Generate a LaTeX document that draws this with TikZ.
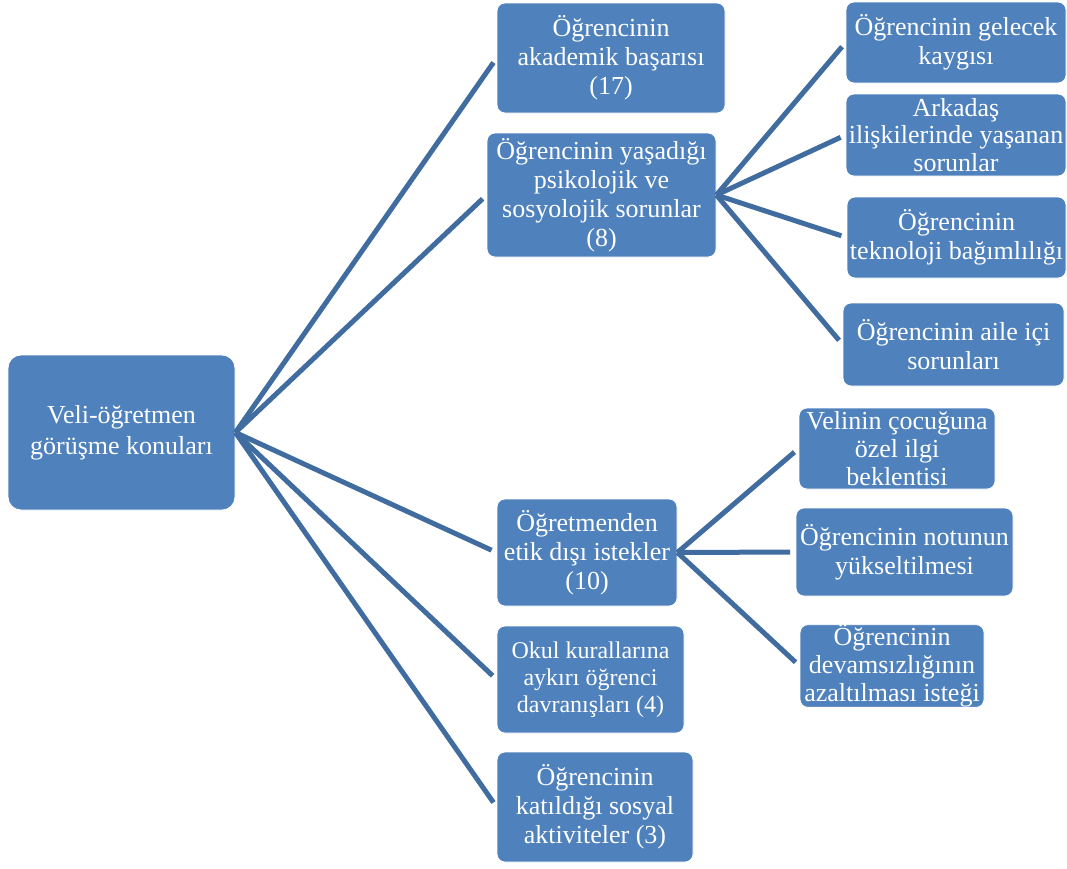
\documentclass[tikz,border=0pt]{standalone}
\usepackage{fontspec}
\setmainfont{Liberation Serif}
\definecolor{boxblue}{RGB}{79,129,189}
\definecolor{linkblue}{RGB}{65,108,160}
\begin{document}
\begin{tikzpicture}[x=1pt,y=-1pt,
  topic/.style={draw=white, line width=0.8pt, fill=boxblue, text=white,
    rounded corners=8pt, inner sep=0pt, align=center,
    font=\fontsize{26}{29}\selectfont},
  link/.style={draw=linkblue, line width=5pt, shorten >=5.5pt}]
\useasboundingbox (0,0) rectangle (1067,868);

% central topic
\node[topic, rounded corners=13pt, minimum width=227pt, minimum height=155pt,
  font=\fontsize{26}{31}\selectfont] (root) at (121.5,432.5)
  {Veli-öğretmen\\görüşme konuları};

% first level
\node[topic, minimum width=228pt, minimum height=110pt] (acad) at (611,58)
  {Öğrencinin\\akademik başarısı\\(17)};
\node[topic, minimum width=229pt, minimum height=124pt] (psy) at (601.5,195)
  {Öğrencinin yaşadığı\\psikolojik ve\\sosyolojik sorunlar\\(8)};
\node[topic, minimum width=180pt, minimum height=107pt] (ethic) at (587,552.5)
  {Öğretmenden\\etik dışı istekler\\(10)};
\node[topic, minimum width=187pt, minimum height=107pt,
  font=\fontsize{24}{27}\selectfont] (rules) at (590.5,679.5)
  {Okul kurallarına\\aykırı öğrenci\\davranışları (4)};
\node[topic, minimum width=196pt, minimum height=110pt] (social) at (595,807)
  {Öğrencinin\\katıldığı sosyal\\aktiviteler (3)};

% second level: psychological and social problems
\node[topic, minimum width=220pt, minimum height=81pt] (future) at (956,42.5)
  {Öğrencinin gelecek\\kaygısı};
\node[topic, minimum width=220pt, minimum height=82pt,
  font=\fontsize{26}{27.5}\selectfont] (friends) at (956,135)
  {Arkadaş\\ilişkilerinde yaşanan\\sorunlar};
\node[topic, minimum width=219pt, minimum height=81pt] (tech) at (956.5,237.5)
  {Öğrencinin\\teknoloji bağımlılığı};
\node[topic, minimum width=221pt, minimum height=83pt] (family) at (953.5,344.5)
  {Öğrencinin aile içi\\sorunları};

% second level: unethical requests
\node[topic, minimum width=196pt, minimum height=81pt,
  font=\fontsize{26}{28}\selectfont] (care) at (897,448.5)
  {Velinin çocuğuna\\özel ilgi\\beklentisi};
\node[topic, minimum width=217pt, minimum height=88pt] (grade) at (904.5,552)
  {Öğrencinin notunun\\yükseltilmesi};
\node[topic, minimum width=184pt, minimum height=82pt,
  font=\fontsize{26}{28}\selectfont] (absence) at (892,666)
  {Öğrencinin\\devamsızlığının\\azaltılması isteği};

% connectors
\foreach \t in {acad,psy,ethic,rules,social}
  \draw[link] (root.east) -- (\t.west);
\foreach \t in {future,friends,tech,family}
  \draw[link] (psy.east) -- (\t.west);
\foreach \t in {care,grade,absence}
  \draw[link] (ethic.east) -- (\t.west);
\end{tikzpicture}
\end{document}
